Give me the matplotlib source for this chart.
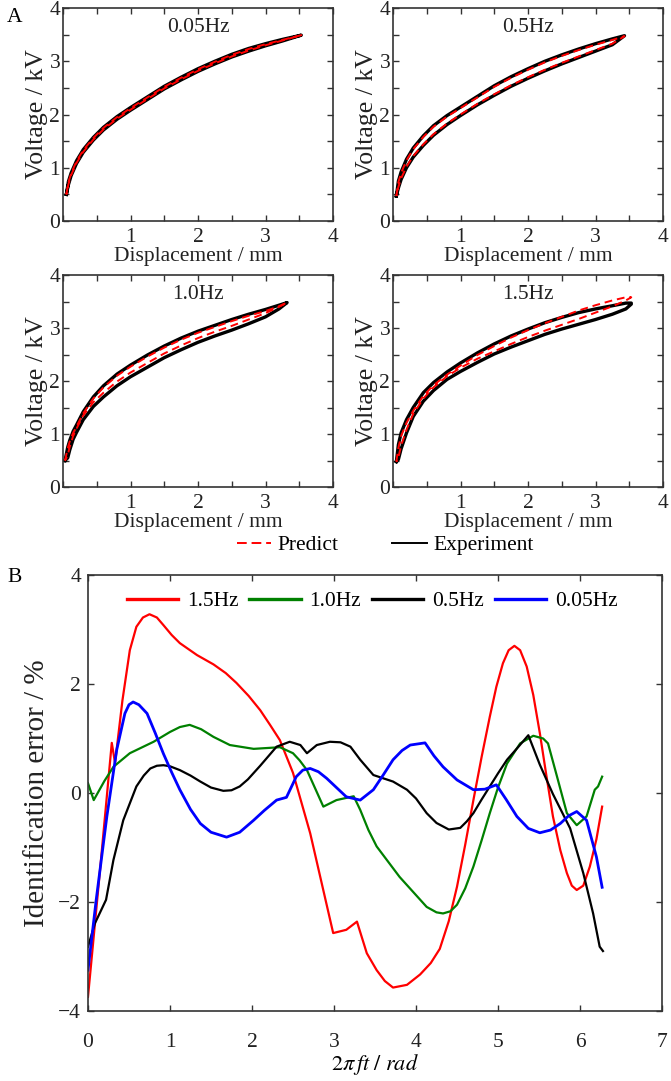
import matplotlib
matplotlib.use('Agg')
import matplotlib.pyplot as plt
from matplotlib.lines import Line2D

plt.rcParams['font.family'] = ['Liberation Serif', 'DejaVu Serif']
plt.rcParams['mathtext.fontset'] = 'stix'

# ---- panel A: hysteresis loops (displacement mm, voltage kV) ----
freqs_a = ['0.05Hz', '0.5Hz', '1.0Hz', '1.5Hz']

d_005 = [0.05, 0.08, 0.12, 0.2, 0.3, 0.45, 0.6, 0.8, 1.0, 1.25, 1.5, 1.75, 2.0, 2.25, 2.5, 2.75, 3.0, 3.25, 3.53]
exp_up_005 = [0.50, 0.74, 0.90, 1.13, 1.34, 1.57, 1.76, 1.96, 2.13, 2.33, 2.53, 2.70, 2.86, 3.00, 3.13, 3.24, 3.33, 3.41, 3.49]
exp_lo_005 = [0.50, 0.68, 0.85, 1.08, 1.29, 1.52, 1.71, 1.91, 2.08, 2.28, 2.48, 2.65, 2.81, 2.95, 3.08, 3.19, 3.29, 3.38, 3.49]
pre_up_005 = [0.50, 0.73, 0.89, 1.12, 1.33, 1.56, 1.75, 1.95, 2.12, 2.32, 2.52, 2.69, 2.85, 2.99, 3.12, 3.23, 3.32, 3.40, 3.49]
pre_lo_005 = [0.50, 0.69, 0.86, 1.09, 1.30, 1.53, 1.72, 1.92, 2.09, 2.29, 2.49, 2.66, 2.82, 2.96, 3.09, 3.20, 3.30, 3.39, 3.49]

d_05 = [0.05, 0.08, 0.12, 0.2, 0.3, 0.45, 0.6, 0.8, 1.0, 1.25, 1.5, 1.75, 2.0, 2.25, 2.5, 2.75, 3.0, 3.25, 3.43]
exp_up_05 = [0.47, 0.75, 0.92, 1.16, 1.37, 1.60, 1.79, 1.98, 2.14, 2.34, 2.54, 2.71, 2.86, 3.00, 3.12, 3.23, 3.33, 3.42, 3.48]
exp_lo_05 = [0.47, 0.62, 0.78, 1.00, 1.20, 1.42, 1.61, 1.81, 1.98, 2.18, 2.36, 2.53, 2.68, 2.82, 2.95, 3.07, 3.19, 3.31, 3.48]
pre_up_05 = [0.47, 0.73, 0.90, 1.14, 1.35, 1.58, 1.77, 1.96, 2.12, 2.32, 2.52, 2.69, 2.84, 2.98, 3.10, 3.21, 3.31, 3.40, 3.47]
pre_lo_05 = [0.47, 0.64, 0.80, 1.02, 1.22, 1.44, 1.63, 1.83, 2.00, 2.20, 2.38, 2.55, 2.70, 2.84, 2.97, 3.09, 3.21, 3.33, 3.47]

d_10 = [0.03, 0.07, 0.1, 0.15, 0.2, 0.3, 0.45, 0.6, 0.8, 1.0, 1.25, 1.5, 1.75, 2.0, 2.25, 2.5, 2.75, 3.0, 3.2, 3.32]
exp_up_10 = [0.50, 0.75, 0.88, 1.05, 1.17, 1.42, 1.70, 1.91, 2.13, 2.30, 2.49, 2.66, 2.81, 2.94, 3.05, 3.16, 3.26, 3.35, 3.43, 3.48]
exp_lo_10 = [0.50, 0.55, 0.70, 0.90, 1.03, 1.27, 1.52, 1.70, 1.91, 2.08, 2.26, 2.44, 2.59, 2.73, 2.85, 2.96, 3.08, 3.21, 3.36, 3.48]
pre_up_10 = [0.50, 0.73, 0.86, 1.02, 1.14, 1.39, 1.67, 1.88, 2.10, 2.27, 2.46, 2.63, 2.78, 2.91, 3.02, 3.13, 3.23, 3.32, 3.41, 3.48]
pre_lo_10 = [0.50, 0.60, 0.76, 0.96, 1.10, 1.35, 1.60, 1.78, 1.99, 2.16, 2.34, 2.52, 2.67, 2.81, 2.93, 3.04, 3.16, 3.28, 3.40, 3.48]

d_15 = [0.05, 0.08, 0.12, 0.2, 0.3, 0.45, 0.6, 0.8, 1.0, 1.25, 1.5, 1.75, 2.0, 2.25, 2.5, 2.75, 3.0, 3.25, 3.45, 3.53]
exp_up_15 = [0.48, 0.80, 1.02, 1.27, 1.50, 1.78, 1.97, 2.17, 2.34, 2.53, 2.70, 2.85, 2.98, 3.10, 3.20, 3.29, 3.36, 3.42, 3.47, 3.47]
exp_lo_15 = [0.48, 0.52, 0.72, 1.02, 1.33, 1.62, 1.82, 2.03, 2.18, 2.35, 2.51, 2.64, 2.76, 2.88, 2.98, 3.07, 3.16, 3.26, 3.36, 3.45]
pre_up_15 = [0.48, 0.74, 0.96, 1.21, 1.44, 1.72, 1.92, 2.12, 2.29, 2.49, 2.66, 2.82, 2.96, 3.09, 3.21, 3.33, 3.43, 3.52, 3.58, 3.58]
pre_lo_15 = [0.48, 0.56, 0.78, 1.08, 1.38, 1.67, 1.88, 2.09, 2.25, 2.42, 2.56, 2.70, 2.83, 2.95, 3.06, 3.17, 3.29, 3.41, 3.52, 3.58]

# ---- panel B: identification error (%) vs 2*pi*f*t ----
x_15 = [0.0, 0.15, 0.29, 0.33, 0.42, 0.51, 0.59, 0.67, 0.75, 0.84, 0.92, 1.02, 1.12, 1.33, 1.53, 1.68, 1.81,
        1.96, 2.10, 2.22, 2.34, 2.50, 2.71, 2.99, 3.15, 3.28, 3.40, 3.52, 3.62, 3.72, 3.89, 4.05, 4.18, 4.29,
        4.40, 4.50, 4.60, 4.70, 4.80, 4.90, 4.98, 5.06, 5.13, 5.20, 5.27, 5.35, 5.43, 5.51, 5.59, 5.67, 5.76,
        5.84, 5.90, 5.96, 6.04, 6.12, 6.20, 6.27]
y_15 = [-3.74, -1.36, 0.92, 0.55, 1.70, 2.62, 3.05, 3.22, 3.28, 3.22, 3.08, 2.90, 2.75, 2.53, 2.36, 2.20, 2.02,
        1.78, 1.52, 1.25, 0.97, 0.37, -0.74, -2.57, -2.51, -2.36, -2.94, -3.25, -3.45, -3.57, -3.52, -3.33, -3.12, -2.86,
        -2.35, -1.72, -0.95, -0.13, 0.66, 1.40, 1.95, 2.38, 2.62, 2.70, 2.62, 2.32, 1.80, 1.10, 0.32, -0.43, -1.05,
        -1.47, -1.70, -1.78, -1.70, -1.35, -0.85, -0.25]

x_10 = [0.0, 0.07, 0.2, 0.31, 0.51, 0.80, 1.0, 1.12, 1.24, 1.38, 1.53, 1.73, 2.02, 2.34, 2.50, 2.58, 2.67, 2.87,
        3.03, 3.24, 3.32, 3.42, 3.52, 3.80, 4.13, 4.25, 4.33, 4.42, 4.50, 4.60, 4.70, 4.80, 4.90, 5.00, 5.11,
        5.27, 5.43, 5.55, 5.61, 5.72, 5.84, 5.96, 6.08, 6.18, 6.22, 6.27]
y_10 = [0.18, -0.13, 0.22, 0.48, 0.73, 0.94, 1.12, 1.21, 1.25, 1.17, 1.03, 0.88, 0.81, 0.84, 0.73, 0.60, 0.42, -0.25,
        -0.13, -0.06, -0.31, -0.68, -0.98, -1.54, -2.09, -2.19, -2.21, -2.17, -2.05, -1.75, -1.35, -0.87, -0.37, 0.10,
        0.54, 0.91, 1.05, 1.00, 0.91, 0.30, -0.37, -0.59, -0.43, 0.06, 0.12, 0.30]

x_05 = [0.0, 0.085, 0.22, 0.31, 0.43, 0.59, 0.68, 0.76, 0.84, 0.92, 1.0, 1.12, 1.25, 1.37, 1.5, 1.65, 1.75, 1.85,
        1.95, 2.10, 2.30, 2.46, 2.59, 2.67, 2.79, 2.95, 3.08, 3.20, 3.32, 3.48, 3.72, 3.89, 4.00, 4.13, 4.25,
        4.40, 4.54, 4.62, 4.70, 4.80, 4.90, 5.00, 5.11, 5.25, 5.37, 5.51, 5.67, 5.88, 6.04, 6.16, 6.24, 6.28]
y_05 = [-2.82, -2.39, -1.96, -1.23, -0.50, 0.12, 0.32, 0.45, 0.50, 0.51, 0.49, 0.42, 0.32, 0.21, 0.10, 0.04, 0.05, 0.12,
        0.25, 0.50, 0.85, 0.94, 0.88, 0.73, 0.88, 0.94, 0.93, 0.85, 0.61, 0.33, 0.21, 0.06, -0.10, -0.37, -0.55,
        -0.67, -0.64, -0.52, -0.37, -0.12, 0.12, 0.36, 0.61, 0.85, 1.06, 0.52, -0.02, -0.65, -1.47, -2.21, -2.82, -2.90]

x_005 = [0.0, 0.1, 0.23, 0.35, 0.45, 0.50, 0.55, 0.62, 0.72, 0.82, 0.92, 1.02, 1.12, 1.25, 1.37, 1.50, 1.69, 1.85,
         2.02, 2.15, 2.30, 2.42, 2.54, 2.62, 2.71, 2.81, 2.91, 3.03, 3.15, 3.32, 3.48, 3.60, 3.72, 3.83, 3.93,
         4.11, 4.22, 4.33, 4.50, 4.70, 4.84, 4.98, 5.10, 5.23, 5.37, 5.51, 5.64, 5.76, 5.86, 5.96, 6.08, 6.20, 6.27]
y_005 = [-3.25, -1.96, -0.43, 0.79, 1.46, 1.62, 1.67, 1.62, 1.46, 1.10, 0.72, 0.38, 0.06, -0.30, -0.56, -0.72, -0.81,
         -0.72, -0.50, -0.32, -0.13, -0.08, 0.30, 0.42, 0.45, 0.39, 0.27, 0.10, -0.07, -0.13, 0.06, 0.33, 0.61, 0.78,
         0.88, 0.92, 0.68, 0.48, 0.24, 0.06, 0.07, 0.15, -0.12, -0.43, -0.65, -0.73, -0.68, -0.56, -0.42, -0.34, -0.50,
         -1.17, -1.73]

loops = [
    (d_005, exp_up_005, exp_lo_005, pre_up_005, pre_lo_005),
    (d_05, exp_up_05, exp_lo_05, pre_up_05, pre_lo_05),
    (d_10, exp_up_10, exp_lo_10, pre_up_10, pre_lo_10),
    (d_15, exp_up_15, exp_lo_15, pre_up_15, pre_lo_15),
]

W, H = 671, 1081
fig = plt.figure(figsize=(W / 100, H / 100), dpi=100)

spine_c = '#333333'
fs = 15.5


def style(ax):
    for s in ax.spines.values():
        s.set_color(spine_c)
        s.set_linewidth(1.2)
    ax.tick_params(direction='in', top=True, right=True, length=4, width=1.0,
                   color=spine_c, labelcolor='#222222', labelsize=fs)


# axes boxes in pixel coords (left, top, right, bottom)
boxes = [(63, 8, 333, 221), (393, 8, 663, 221), (63, 275, 333, 487), (393, 275, 663, 487)]

for i, (box, name, data) in enumerate(zip(boxes, freqs_a, loops)):
    l, t, r, b = box
    ax = fig.add_axes([l / W, 1 - b / H, (r - l) / W, (b - t) / H])
    d, eu, el, pu, pl = data
    ax.plot(d + d[::-1], eu + el[::-1], color='black', lw=2.4, solid_joinstyle='round')
    ax.plot(d + d[::-1], pu + pl[::-1], color='red', lw=1.4, ls=(0, (4, 2.5)))
    ax.set_xlim(0, 4)
    ax.set_ylim(0, 4)
    ax.set_xticks([0, 0.5, 1, 1.5, 2, 2.5, 3, 3.5, 4])
    ax.set_xticklabels(['', '', '1', '', '2', '', '3', '', '4'])
    ax.set_yticks([0, 0.5, 1, 1.5, 2, 2.5, 3, 3.5, 4])
    ax.set_yticklabels(['0', '', '1', '', '2', '', '3', '', '4'])
    style(ax)
    ax.tick_params(axis='x', pad=5)
    ax.tick_params(axis='y', pad=2)
    ax.set_xlabel('Displacement / mm', fontsize=fs, labelpad=0, color='#222222')
    ax.set_ylabel('Voltage / kV', fontsize=18.5, labelpad=1, color='#222222')
    ax.text(0.5, 0.91, name, transform=ax.transAxes, ha='center', va='center', fontsize=fs, color='#222222')

fig.text(15 / W, 1 - 17 / H, 'A', fontsize=fs, ha='center', va='center')
fig.text(15 / W, 1 - 578 / H, 'B', fontsize=fs, ha='center', va='center')

# legend for panel A
hA = [Line2D([], [], color='red', lw=1.4, ls=(0, (5, 2.5))),
      Line2D([], [], color='black', lw=1.4)]
fig.legend(hA, ['Predict', 'Experiment'], loc='center', bbox_to_anchor=(385 / W, 1 - 545 / H),
           ncol=2, frameon=False, fontsize=fs, handlelength=1.6, handletextpad=0.3,
           columnspacing=2.5, borderpad=0, borderaxespad=0)

# ---- panel B ----
axb = fig.add_axes([88 / W, 1 - 1011 / H, (662 - 88) / W, (1011 - 575) / H])
axb.plot(x_15, y_15, color='red', lw=1.6, label='1.5Hz')
axb.plot(x_10, y_10, color='green', lw=1.6, label='1.0Hz')
axb.plot(x_05, y_05, color='black', lw=1.6, label='0.5Hz')
axb.plot(x_005, y_005, color='blue', lw=2.0, label='0.05Hz')
axb.set_xlim(0, 7)
axb.set_ylim(-4, 4)
axb.set_xticks(range(0, 8))
axb.set_yticks([-4, -2, 0, 2, 4])
style(axb)
axb.tick_params(axis='x', pad=16)
axb.tick_params(axis='y', pad=5)
axb.set_xlabel(r'$2\pi\,ft\ /\ rad$', fontsize=16, labelpad=0)
axb.set_ylabel('Identification error / %', fontsize=21, labelpad=6, color='#222222')
axb.legend(loc='center', bbox_to_anchor=(372 / W, 1 - 601 / H), bbox_transform=fig.transFigure,
           ncol=4, frameon=False, fontsize=fs, handlelength=2.4, handletextpad=0.4,
           columnspacing=0.5, borderpad=0)
for ln in axb.get_legend().get_lines():
    ln.set_linewidth(2.4)

fig.savefig('out.png', dpi=100)
